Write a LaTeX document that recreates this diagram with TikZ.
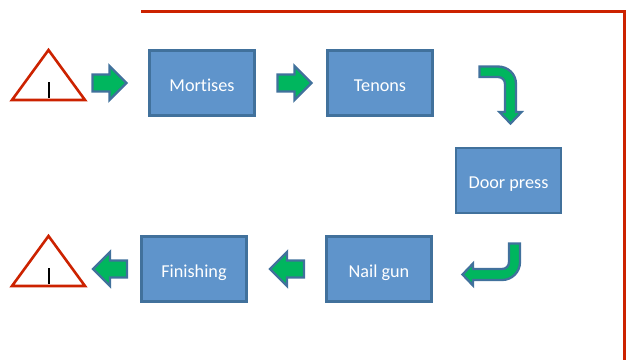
\documentclass[tikz,border=0pt]{standalone}
\usepackage{fontspec}
\setmainfont[RawFeature={-liga}]{Carlito}
\definecolor{boxfill}{HTML}{5F94CB}
\definecolor{boxline}{HTML}{41719C}
\definecolor{arrowfill}{HTML}{00B65E}
\definecolor{markred}{HTML}{CC2200}
\tikzset{
  stepbox/.style={
    draw=boxline,
    fill=boxfill,
    line width=2.6pt,
    minimum width=105pt,
    minimum height=65pt,
    inner sep=0pt,
    text=white,
    font=\fontsize{18.2pt}{20pt}\selectfont
  },
  blockarrow/.style={draw=boxline,fill=arrowfill,line width=2.3pt,line join=miter},
  redline/.style={draw=markred,line width=3pt},
  marktri/.style={draw=markred,line width=2.6pt,line join=miter}
}
\begin{document}
\begin{tikzpicture}[x=1pt,y=-1pt]
\useasboundingbox (0,0) rectangle (626,360);
\draw[redline] (141,11) -- (624,11) -- (624,360);
\foreach \k/\x/\y/\lab in {%
  mortises/202/83/Mortises,
  tenons/380/83/Tenons,
  press/508.5/180.5/Door press,
  nail/379/269/Nail gun,
  finish/194/269/Finishing%
} {
  \node[stepbox] (\k) at (\x,\y) {\raisebox{-8pt}[0pt][0pt]{\lab}};
}
\foreach \y in {0,186} {
  \draw[marktri] (48.5,50+\y) -- (85,100+\y) -- (12,100+\y) -- cycle;
  \draw[line width=2pt] (48.5,82+\y) -- (48.5,98+\y);
}
\foreach \x/\y/\d in {%
  92.5/83/1,
  277.5/83/1,
  127/269/-1,
  304/269/-1%
} {
  \draw[blockarrow,shift={(\x,\y)},xscale=\d]
    (0,-8.5) -- (17,-8.5) -- (17,-17) -- (34,0) -- (17,17) -- (17,8.5) -- (0,8.5) -- cycle;
}
\draw[blockarrow] (479.5,66.5) -- (498,66.5)
  .. controls (508,66.5) and (516,74) .. (516,84)
  -- (516,112) -- (521.5,112) -- (510.5,123.5) -- (499.5,112) -- (505,112) -- (505,84)
  .. controls (505,80) and (502,77) .. (498,77)
  -- (479.5,77) -- cycle;
\draw[blockarrow] (520,243.5) -- (520,262)
  .. controls (520,272) and (512,280) .. (502,280)
  -- (473,280) -- (473,285.5) -- (462.5,274.5) -- (473,263.5) -- (473,269) -- (502,269)
  .. controls (506,269) and (509,266) .. (509,262)
  -- (509,243.5) -- cycle;
\end{tikzpicture}
\end{document}
